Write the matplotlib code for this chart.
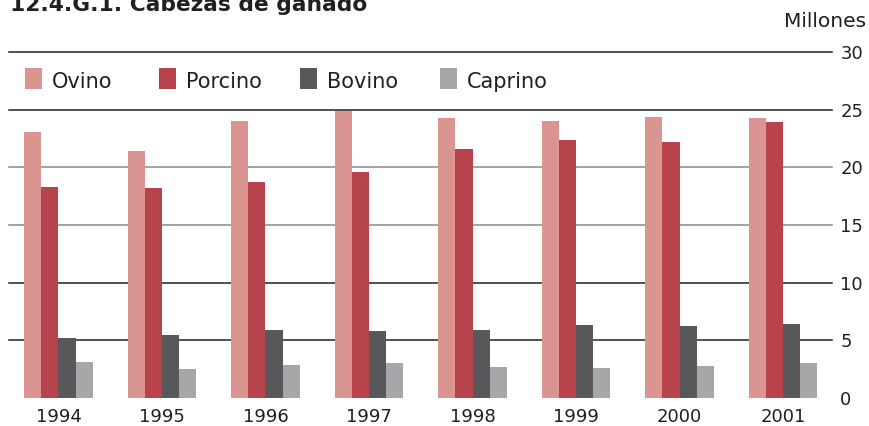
import numpy as np
import matplotlib
matplotlib.use('Agg')
import matplotlib.pyplot as plt
from matplotlib.patches import Rectangle

plt.rcParams['font.family'] = ['DejaVu Sans']

# datos (millones de cabezas)
anios = ['1994', '1995', '1996', '1997', '1998', '1999', '2000', '2001']
ovino = [23.1, 21.4, 24.0, 24.9, 24.3, 24.0, 24.4, 24.3]
porcino = [18.3, 18.2, 18.7, 19.6, 21.6, 22.4, 22.2, 23.9]
bovino = [5.2, 5.5, 5.9, 5.8, 5.9, 6.3, 6.2, 6.4]
caprino = [3.1, 2.5, 2.9, 3.0, 2.7, 2.6, 2.8, 3.0]

series = [('Ovino', ovino, '#da9591'),
          ('Porcino', porcino, '#b9434d'),
          ('Bovino', bovino, '#58585a'),
          ('Caprino', caprino, '#a7a7aa')]

W, H = 869, 426
fig = plt.figure(figsize=(W/100, H/100), dpi=100)
ax = fig.add_axes([9/W, 28/H, (832-9)/W, (398-52)/H])

x = np.arange(len(anios))
w = 0.165
for k, (nombre, vals, color) in enumerate(series):
    ax.bar(x + (k - 1.5) * w, vals, w, color=color, label=nombre, zorder=3, linewidth=0)

# lineas de referencia
for v in [5, 10, 15, 20, 25, 30]:
    c = '#8a8a8a' if v in (15, 20) else '#231f20'
    ax.axhline(v, color=c, linewidth=1.1, zorder=1, clip_on=False)

ax.set_xlim(-0.478, 7.473)
ax.set_ylim(0, 30)
ax.set_yticks([0, 5, 10, 15, 20, 25, 30])
ax.yaxis.tick_right()
ax.tick_params(axis='y', length=0, pad=6, labelsize=13, labelcolor='#231f20')
ax.set_xticks(x)
ax.set_xticklabels(anios)
ax.tick_params(axis='x', length=0, pad=7, labelsize=13, labelcolor='#231f20')
for s in ax.spines.values():
    s.set_visible(False)

# leyenda manual (posiciones en pixeles)
leg_x = [25, 159, 300, 440]
for (nombre, _, color), lx in zip(series, leg_x):
    fig.add_artist(Rectangle((lx/W, (H-89)/H), 17/W, 21/H, transform=fig.transFigure,
                             facecolor=color, edgecolor='none'))
    fig.text((lx + 27)/W, (H-88)/H, nombre, fontsize=15, color='#231f20',
             ha='left', va='baseline')

fig.text(10/W, (H-11)/H, '12.4.G.1. Cabezas de ganado', fontsize=15.7,
         fontweight='bold', color='#231f20', ha='left', va='baseline')
fig.text(866/W, (H-27)/H, 'Millones', fontsize=14.5, color='#231f20',
         ha='right', va='baseline')

fig.savefig('out.png', dpi=100)
